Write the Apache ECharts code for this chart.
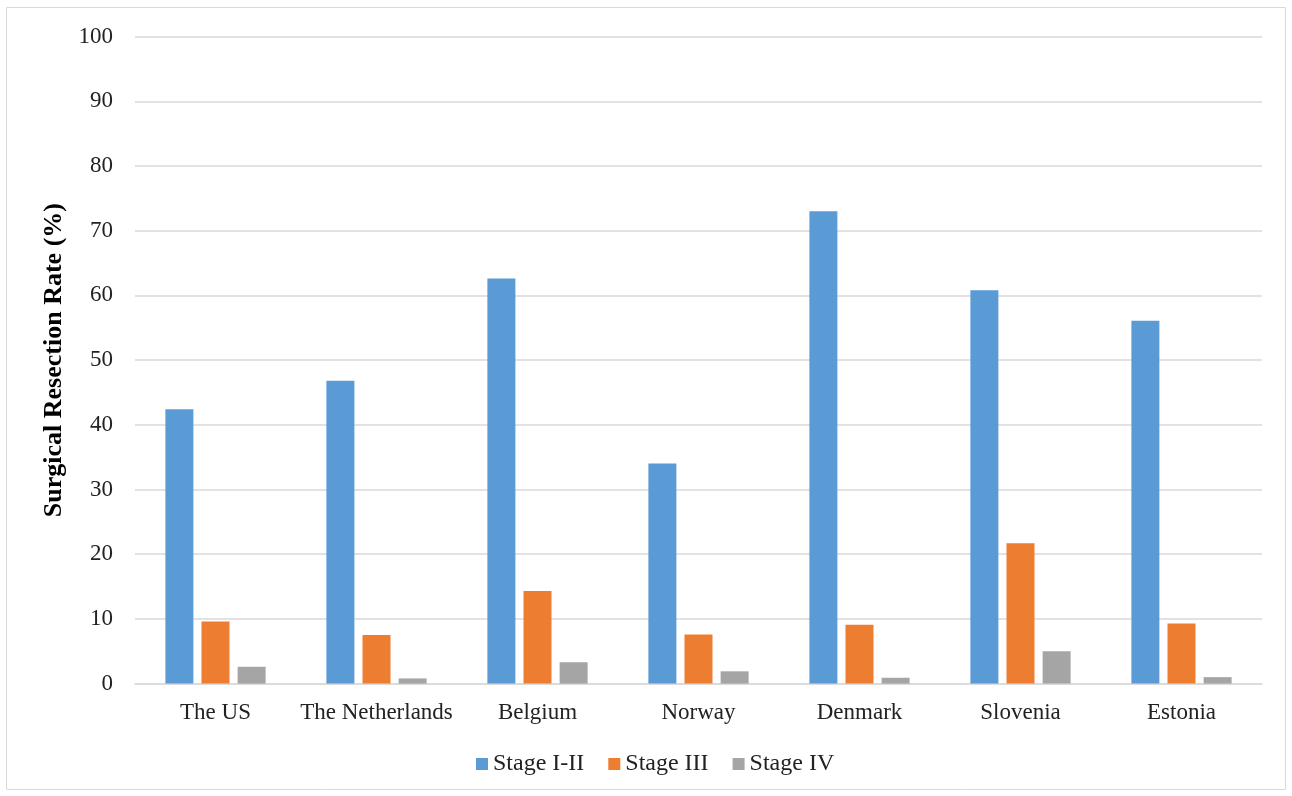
<!DOCTYPE html>
<html>
<head>
<meta charset="utf-8">
<script src="https://cdn.jsdelivr.net/npm/echarts@6/dist/echarts.min.js"></script>
<style>
html,body{margin:0;padding:0;background:#fff;}
#chart{width:1292px;height:796px;}
</style>
</head>
<body>
<div id="chart"></div>
<script>
const categories = ['The US','The Netherlands','Belgium','Norway','Denmark','Slovenia','Estonia'];
const stage12 = [42.4, 46.8, 62.6, 34.0, 73.0, 60.8, 56.1];
const stage3 = [9.6, 7.5, 14.3, 7.6, 9.1, 21.7, 9.3];
const stage4 = [2.6, 0.8, 3.3, 1.9, 0.9, 5.0, 1.0];
const seriesNames = ['Stage I-II','Stage III','Stage IV'];
const yTicks = {min:0, max:100, interval:10};

const font = '"Liberation Serif", "Times New Roman", serif';
const chart = echarts.init(document.getElementById('chart'));
function bar(name, data, color){
  return {name, type:'bar', data, barWidth:28, barGap:'29%',
    itemStyle:{color}, emphasis:{disabled:true}};
}
chart.setOption({
  animation:false,
  textStyle:{fontFamily:font},
  graphic:[{type:'rect', shape:{x:6.5,y:7.5,width:1279,height:782},
    style:{fill:'none', stroke:'#d9d9d9', lineWidth:1}, silent:true}],
  grid:{left:135, right:30, top:36.6, bottom:796-683.6, containLabel:false},
  legend:{top:747, left:471, itemWidth:12, itemHeight:12, itemGap:24,
    icon:'rect', textStyle:{fontFamily:font, fontSize:24, color:'#222'},
    data:seriesNames},
  xAxis:{type:'category', data:categories,
    axisLine:{lineStyle:{color:'#d9d9d9', width:1.5}},
    axisTick:{show:false},
    axisLabel:{interval:0, fontFamily:font, fontSize:23, color:'#222', margin:18}},
  yAxis:{type:'value', min:yTicks.min, max:yTicks.max, interval:yTicks.interval,
    name:'Surgical Resection Rate (%)', nameLocation:'middle', nameGap:64,
    nameTextStyle:{fontFamily:font, fontSize:26, fontWeight:'bold', color:'#000'},
    axisLine:{show:false}, axisTick:{show:false},
    axisLabel:{fontFamily:font, fontSize:23, color:'#222', margin:22},
    splitLine:{lineStyle:{color:'#d9d9d9', width:1.5}}},
  series:[
    bar(seriesNames[0], stage12, '#5b9bd5'),
    bar(seriesNames[1], stage3, '#ed7d31'),
    bar(seriesNames[2], stage4, '#a5a5a5')
  ]
});
</script>
</body>
</html>
